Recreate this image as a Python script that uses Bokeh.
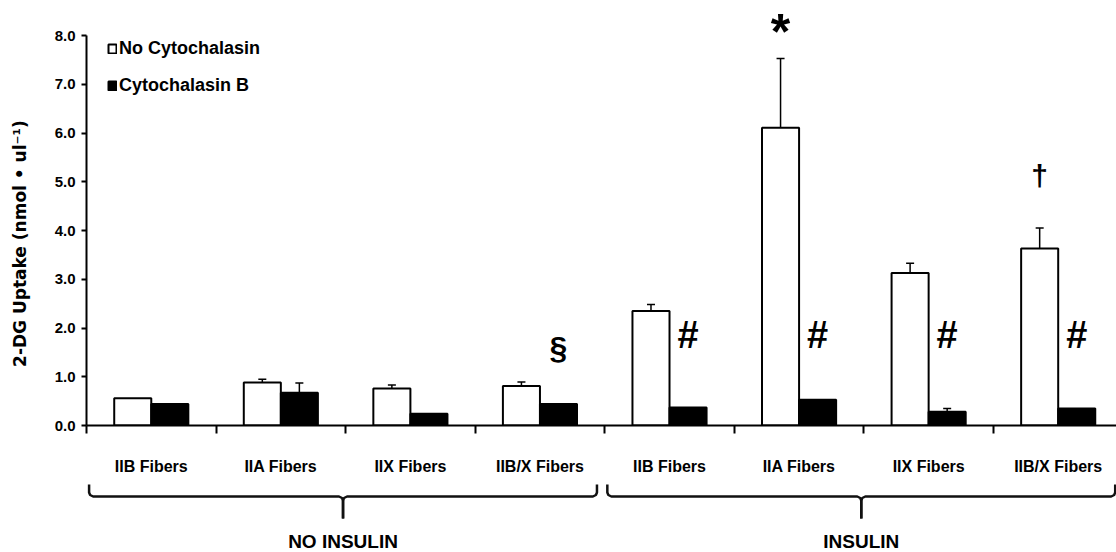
import numpy as np
from bokeh.plotting import figure
from bokeh.models import (ColumnDataSource, Range1d, FixedTicker, LinearAxis, Whisker,
                          TeeHead, Legend, LegendItem, NumeralTickFormatter)
from bokeh.layouts import column
from bokeh.embed import file_html
from bokeh.resources import INLINE
from bokeh.core.properties import value

# ---------------- data ----------------
fibers = ["IIB Fibers", "IIA Fibers", "IIX Fibers", "IIB/X Fibers"]
groups = ["NO INSULIN", "INSULIN"]
series = ["No Cytochalasin", "Cytochalasin B"]

no_cyto = [0.56, 0.88, 0.76, 0.81, 2.35, 6.11, 3.13, 3.63]
no_cyto_err = [0.0, 0.07, 0.07, 0.08, 0.13, 1.42, 0.20, 0.42]
cyto_b = [0.44, 0.67, 0.24, 0.44, 0.37, 0.53, 0.28, 0.35]
cyto_b_err = [0.0, 0.20, 0.0, 0.0, 0.0, 0.0, 0.07, 0.0]

y_ticks = [0, 1, 2, 3, 4, 5, 6, 7, 8]
y_label = "2-DG Uptake  (nmol \u2022 ul\u207b\u00b9)"

ann_text = ["\u00a7", "#", "#", "#", "#", "*", "\u2020"]
ann_cat = [3, 4, 5, 6, 7, 5, 7]
ann_series = [1, 1, 1, 1, 1, 0, 0]
ann_y = [1.58, 1.85, 1.85, 1.85, 1.85, 8.08, 5.13]

# ---------------- style ----------------
FONT = "Liberation Sans"
OFF = 0.143
BW = 0.286
ann_size = {"\u00a7": "32px", "#": "38px", "*": "50px", "\u2020": "30px"}
LABEL_PAD = "\u00a0" * 8   # shifts the rotated axis title down along the axis

cats = fibers * len(groups)
n = len(cats)
centers = np.arange(n) + 0.5

xr = Range1d(0, 7.95)
yr = Range1d(0, 8.554)

p = figure(width=1116, height=480, x_range=xr, y_range=yr,
           x_axis_type=None, y_axis_type=None,
           min_border_left=86, min_border_right=0, min_border_top=8, min_border_bottom=55,
           outline_line_color=None, toolbar_location=None, output_backend="svg")

src_w = ColumnDataSource(dict(x=centers - OFF, top=no_cyto, err=no_cyto_err))
src_b = ColumnDataSource(dict(x=centers + OFF, top=cyto_b, err=cyto_b_err))

def whisk(xs, tops, errs):
    sel = [i for i in range(len(errs)) if errs[i] > 0]
    s = ColumnDataSource(dict(x=[xs[i] for i in sel],
                              lower=[tops[i] for i in sel],
                              upper=[tops[i] + errs[i] for i in sel]))
    w = Whisker(base="x", lower="lower", upper="upper", source=s, dimension="height",
                line_width=1.5, line_color="black",
                upper_head=TeeHead(size=8, line_width=1.5, line_color="black"),
                lower_head=None)
    p.add_layout(w)

whisk(list(centers - OFF), no_cyto, no_cyto_err)
whisk(list(centers + OFF), cyto_b, cyto_b_err)

r_w = p.vbar(x="x", top="top", width=BW, bottom=0, source=src_w,
             fill_color="white", line_color="black", line_width=2)
r_b = p.vbar(x="x", top="top", width=BW, bottom=0, source=src_b,
             fill_color="black", line_color="black", line_width=2)

# annotations
for sym in ann_size:
    idx = [i for i, t in enumerate(ann_text) if t == sym]
    s = ColumnDataSource(dict(
        x=[ann_cat[i] + 0.5 + (OFF if ann_series[i] else -OFF) for i in idx],
        y=[ann_y[i] for i in idx],
        t=[ann_text[i] for i in idx]))
    p.text(x="x", y="y", text="t", source=s, text_align="center", text_baseline="middle",
           text_font=value(FONT), text_font_style="bold", text_font_size=ann_size[sym],
           text_color="black")

# axes
xaxis = LinearAxis(ticker=FixedTicker(ticks=list(centers), minor_ticks=list(range(n + 1))),
                   major_label_overrides={float(c): lab for c, lab in zip(centers, cats)})
xaxis.axis_line_width = 2
xaxis.major_tick_line_color = None
xaxis.major_tick_out = 8
xaxis.major_tick_in = 0
xaxis.minor_tick_out = 8
xaxis.minor_tick_in = 0
xaxis.minor_tick_line_width = 2
xaxis.minor_tick_line_color = "black"
xaxis.major_label_standoff = 24
xaxis.major_label_text_font = FONT
xaxis.major_label_text_font_style = "bold"
xaxis.major_label_text_font_size = "16px"
xaxis.major_label_text_color = "black"
p.add_layout(xaxis, "below")

yaxis = LinearAxis(ticker=FixedTicker(ticks=y_ticks, minor_ticks=[]),
                   formatter=NumeralTickFormatter(format="0.0"), bounds=(0, 8),
                   axis_label=y_label + LABEL_PAD)
yaxis.axis_line_width = 2
yaxis.major_tick_out = 5
yaxis.major_tick_in = 0
yaxis.major_tick_line_width = 2
yaxis.major_label_standoff = 6
yaxis.major_label_text_font = FONT
yaxis.major_label_text_font_style = "bold"
yaxis.major_label_text_font_size = "15px"
yaxis.major_label_text_color = "black"
yaxis.axis_label_standoff = 22
yaxis.axis_label_text_font = "DejaVu Sans"
yaxis.axis_label_text_font_style = "bold"
yaxis.axis_label_text_font_size = "17px"
yaxis.axis_label_text_color = "black"
p.add_layout(yaxis, "left")

legend = Legend(items=[LegendItem(label=series[0], renderers=[r_w]),
                       LegendItem(label=series[1], renderers=[r_b])],
                location=(21, 329), glyph_width=10, glyph_height=11, label_standoff=2,
                spacing=16, padding=0, margin=0, border_line_color=None,
                background_fill_alpha=0, label_text_font=FONT, label_text_font_style="bold",
                label_text_font_size="18px", label_height=21, label_text_color="black")
p.add_layout(legend)

# ---------------- group braces ----------------
p2 = figure(width=1116, height=72, x_range=xr, y_range=Range1d(72, 0),
            x_axis_type=None, y_axis_type=None,
            min_border_left=86, min_border_right=0, min_border_top=0, min_border_bottom=0,
            outline_line_color=None, toolbar_location=None, output_backend="svg")

per = len(fibers)
bxs, bys, gx = [], [], []
for g in range(len(groups)):
    x0 = g * per + 0.02
    x1 = g * per + per - 0.06
    xm = (x0 + x1) / 2
    gx.append(xm)
    d1, d2 = 0.008, 0.031
    prof = [4, 12, 14.5, 16, 16, 17.5, 20, 38]
    bxs.append([x0, x0, x0 + d1, x0 + d2, xm - d2, xm - d1, xm, xm])
    bys.append(prof)
    bxs.append([x1, x1, x1 - d1, x1 - d2, xm + d2, xm + d1, xm, xm])
    bys.append(prof)
p2.multi_line(xs=bxs, ys=bys, line_color="#111111", line_width=2.5)
p2.text(x=gx, y=[61] * len(gx), text=groups, text_align="center", text_baseline="middle",
        text_font=value(FONT), text_font_style="bold", text_font_size="19px",
        text_color="black")

open("out.html", "w").write(file_html(column(p, p2), INLINE))
